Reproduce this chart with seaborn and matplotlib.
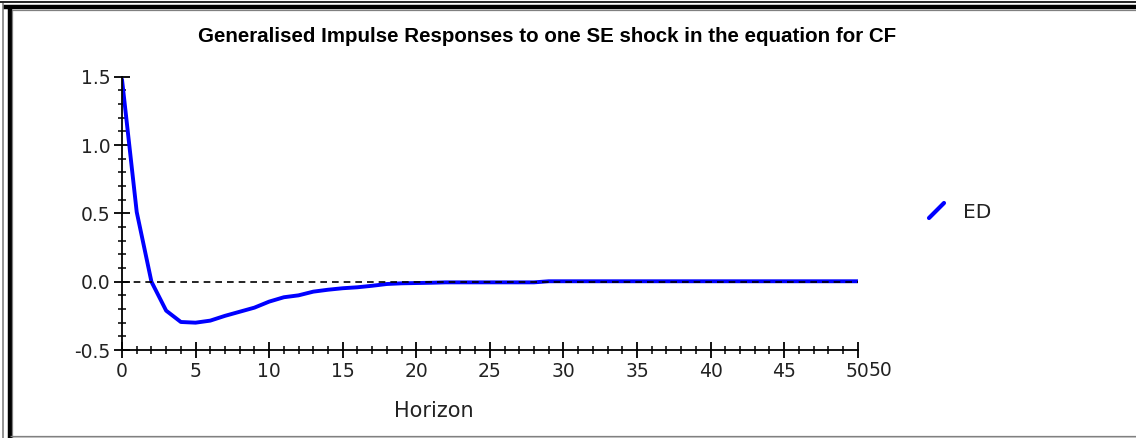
import numpy as np
import pandas as pd
import matplotlib
matplotlib.use("Agg")
import matplotlib.pyplot as plt
import seaborn as sns
from matplotlib.lines import Line2D
from matplotlib.ticker import MultipleLocator

# Data
horizon = list(range(51))
ed = [1.48, 0.51, 0.0, -0.212, -0.295, -0.30, -0.285, -0.25, -0.22, -0.19,
      -0.146, -0.114, -0.10, -0.073, -0.059, -0.048, -0.041, -0.03, -0.017, -0.012,
      -0.01, -0.008,
      -0.005, -0.005, -0.005, -0.005, -0.005, -0.005, -0.005,
      0.003, 0.003, 0.003, 0.003, 0.003, 0.003, 0.003, 0.003, 0.003, 0.003, 0.003,
      0.003, 0.003, 0.003, 0.003, 0.003, 0.003, 0.003, 0.003, 0.003, 0.003, 0.003]
title = "Generalised Impulse Responses to one SE shock in the equation for CF"
series_name = "ED"

df = pd.DataFrame({"Horizon": horizon, series_name: ed})

sns.set_style("ticks")
plt.rcParams['font.family'] = ['DejaVu Sans']

W, H = 1136, 438
fig = plt.figure(figsize=(W / 100, H / 100), dpi=100)
ax = fig.add_axes([122 / W, 1 - 350 / H, (857.7 - 122) / W, (350 - 76.7) / H])

sns.lineplot(data=df, x="Horizon", y=series_name, ax=ax, color="#0000ff", linewidth=2.8, zorder=2)
ax.plot([0, 50], [0, 0], color="black", linestyle=(0, (4, 3)), linewidth=1.2, zorder=3)

ax.set_xlim(0, 50)
ax.set_ylim(-0.5, 1.5)
ax.xaxis.set_major_locator(MultipleLocator(5))
ax.xaxis.set_minor_locator(MultipleLocator(1))
ax.yaxis.set_major_locator(MultipleLocator(0.5))
ax.yaxis.set_minor_locator(MultipleLocator(0.1))
ax.set_yticklabels([f"{v:.1f}" for v in ax.get_yticks()])
ax.tick_params(which="both", bottom=True, left=True, top=False, right=False)
ax.tick_params(which="major", direction="inout", length=11, width=1.3, colors="black",
               labelsize=13.5, labelcolor="#222222", pad=3)
ax.tick_params(which="minor", direction="inout", length=6, width=1.1, colors="black")
ax.tick_params(axis="x", which="major", pad=3)
for s in ["top", "right"]:
    ax.spines[s].set_visible(False)
for s in ["left", "bottom"]:
    ax.spines[s].set_linewidth(1.3)
    ax.spines[s].set_color("black")
ax.set_xlabel("")
ax.set_ylabel("")

# title and axis label
fig.text(547 / W, 1 - 36 / H, title, ha="center", va="center",
         fontsize=14.8, fontweight="bold", color="black",
         family=["Liberation Sans", "DejaVu Sans"])
fig.text(434 / W, 1 - 411 / H, "Horizon", ha="center", va="center",
         fontsize=15, color="#222222")
# stray duplicate tick label
fig.text(880 / W, 1 - 371 / H, "50", ha="center", va="center",
         fontsize=13.5, color="#222222")

# legend
fig.add_artist(Line2D([929 / W, 944 / W], [1 - 218 / H, 1 - 203 / H],
                      color="#0000ff", linewidth=3, transform=fig.transFigure))
fig.text(963 / W, 1 - 212 / H, series_name, ha="left", va="center",
         fontsize=14.5, color="#222222")

# window frame
def hline(y, x0, x1, c, lw):
    fig.add_artist(Line2D([x0 / W, x1 / W], [1 - y / H, 1 - y / H], color=c,
                          linewidth=lw, transform=fig.transFigure, solid_capstyle="butt"))

def vline(x, y0, y1, c, lw):
    fig.add_artist(Line2D([x / W, x / W], [1 - y0 / H, 1 - y1 / H], color=c,
                          linewidth=lw, transform=fig.transFigure, solid_capstyle="butt"))

hline(1.5, 0, W, "black", 1.2)
hline(7, 3, W, "black", 3.2)
hline(10, 8, W, "#808080", 0.9)
vline(3.5, 3, H, "#808080", 1.2)
vline(9.5, 8, H, "black", 3.2)
vline(12, 10, H, "#808080", 0.9)
hline(436, 10, W, "#808080", 0.9)
hline(437.5, 10, W, "black", 1.0)

fig.savefig("out.png", dpi=100)
